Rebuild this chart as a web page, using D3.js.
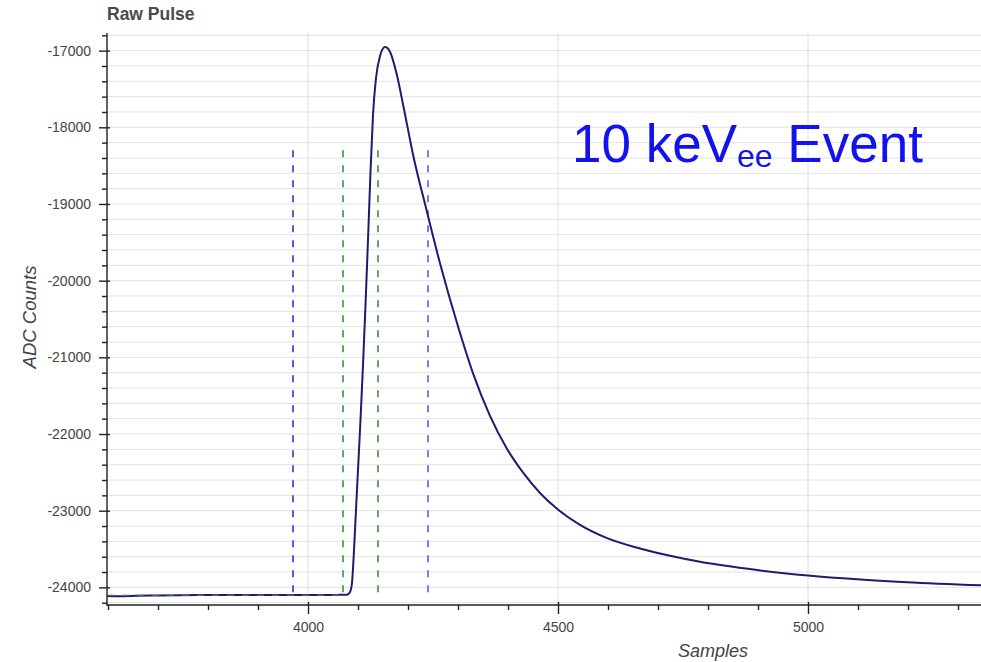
<!DOCTYPE html>
<html>
<head>
<meta charset="utf-8">
<script src="https://cdn.jsdelivr.net/npm/d3@7"></script>
<style>
  html, body { margin: 0; padding: 0; background: #fff; }
  svg { display: block; }
</style>
</head>
<body>
<svg id="chart" width="981" height="662"></svg>
<script>
// Raw digitized pulse: sample index and ADC counts
const pulseSamples = [
  3598, 3620, 3660, 3700, 3800, 3900, 4000, 4060, 4078, 4084, 4088,
  4091, 4095, 4100, 4105, 4110, 4115, 4120, 4125, 4130, 4136, 4144,
  4154, 4164, 4177, 4191, 4211, 4237, 4264, 4301, 4331, 4364, 4397,
  4431, 4464, 4501, 4544, 4597, 4664, 4731, 4784, 4898, 5000, 5098,
  5198, 5346
];
const pulseCounts = [
  -24112, -24115, -24108, -24105, -24100, -24100, -24100, -24098, -24096, -24060, -23943,
  -23643, -23121, -22469, -21817, -21100, -20317, -19469, -18583, -17839, -17357, -17070,
  -16953, -17014, -17296, -17731, -18383, -19078, -19774, -20617, -21225, -21763, -22182,
  -22511, -22769, -22990, -23184, -23354, -23493, -23598, -23667, -23774, -23845, -23895,
  -23933, -23973
];

// Integration window markers
const outerWindow = [3970, 4240];
const innerWindow = [4070, 4140];
const markerTop = -18300;
const markerBottom = -24160;
const baselineLevel = -24100;
const baselineEnd = 4070;

// Axis ticks
const xMajorTicks = [4000, 4500, 5000];
const xMinorTicks = d3.range(3600, 5400, 100);
const yMajorTicks = [-24000, -23000, -22000, -21000, -20000, -19000, -18000, -17000];
const yMinorTicks = d3.range(-24200, -16700, 200);

const titleText = "Raw Pulse";
const xLabel = "Samples";
const yLabel = "ADC Counts";

(function draw() {
  const svg = d3.select("#chart");
  const pLeft = 107, pRight = 981, pTop = 33, pBottom = 605;

  const x = d3.scaleLinear().domain([3598, 5346]).range([pLeft, pRight]);
  const y = d3.scaleLinear().domain([-24230, -16770]).range([pBottom, pTop]);

  const font = "'Liberation Sans', Arial, Helvetica, sans-serif";
  const textColor = "#444444";

  // Grid
  const grid = svg.append("g");
  grid.selectAll("line.h").data(yMinorTicks).join("line")
    .attr("x1", pLeft).attr("x2", pRight)
    .attr("y1", d => y(d)).attr("y2", d => y(d))
    .attr("stroke", "#e2e2e8").attr("stroke-width", 1);
  grid.selectAll("line.v").data(xMajorTicks).join("line")
    .attr("x1", d => x(d)).attr("x2", d => x(d))
    .attr("y1", pTop).attr("y2", pBottom)
    .attr("stroke", "#dedee6").attr("stroke-width", 1);

  // Window markers
  function marker(val, color) {
    svg.append("line")
      .attr("x1", x(val)).attr("x2", x(val))
      .attr("y1", y(markerTop)).attr("y2", y(markerBottom))
      .attr("stroke", color).attr("stroke-width", 2)
      .attr("stroke-dasharray", "7,8");
  }
  marker(outerWindow[0], "#5c5cc8");
  marker(outerWindow[1], "#7c7cee");
  marker(innerWindow[0], "#5fa85f");
  marker(innerWindow[1], "#5fa85f");

  // Pulse trace
  const pts = pulseSamples.map((s, i) => [s, pulseCounts[i]]);
  const line = d3.line().x(d => x(d[0])).y(d => y(d[1])).curve(d3.curveMonotoneX);
  svg.append("path").datum(pts)
    .attr("d", line)
    .attr("fill", "none")
    .attr("stroke", "#1c1c70")
    .attr("stroke-width", 2);

  // Baseline estimate
  svg.append("line")
    .attr("x1", x(3598)).attr("x2", x(baselineEnd))
    .attr("y1", y(baselineLevel)).attr("y2", y(baselineLevel))
    .attr("stroke", "#5fa85f").attr("stroke-width", 1.2)
    .attr("stroke-dasharray", "7,8").attr("opacity", 0.7);

  // Axes
  const yAxis = svg.append("g").attr("transform", `translate(${pLeft},0)`)
    .call(d3.axisLeft(y).tickValues(yMajorTicks).tickSize(8).tickPadding(8).tickFormat(d => String(d)));
  yAxis.select(".domain").remove();
  yAxis.selectAll(".tick line").attr("x1", 3).attr("stroke", "#222").attr("stroke-width", 1.4);
  yAxis.selectAll(".tick text").attr("font-family", font).attr("font-size", 14).attr("fill", textColor);
  const yMinor = svg.append("g").attr("transform", `translate(${pLeft},0)`)
    .call(d3.axisLeft(y).tickValues(yMinorTicks.filter(v => !yMajorTicks.includes(v))).tickSize(5).tickFormat(""));
  yMinor.select(".domain").remove();
  yMinor.selectAll(".tick line").attr("stroke", "#222").attr("stroke-width", 1.4);
  svg.append("line").attr("x1", pLeft).attr("x2", pLeft).attr("y1", pTop).attr("y2", pBottom + 0.5)
    .attr("stroke", "#222").attr("stroke-width", 1.4);

  const xAxis = svg.append("g").attr("transform", `translate(0,${pBottom})`)
    .call(d3.axisBottom(x).tickValues(xMajorTicks).tickSize(9).tickPadding(8).tickFormat(d => String(d)));
  xAxis.select(".domain").remove();
  xAxis.selectAll(".tick line").attr("y1", -3).attr("stroke", "#222").attr("stroke-width", 1.4);
  xAxis.selectAll(".tick text").attr("font-family", font).attr("font-size", 14).attr("fill", textColor);
  const xMinor = svg.append("g").attr("transform", `translate(0,${pBottom})`)
    .call(d3.axisBottom(x).tickValues(xMinorTicks.filter(v => !xMajorTicks.includes(v))).tickSize(5).tickFormat(""));
  xMinor.select(".domain").remove();
  xMinor.selectAll(".tick line").attr("stroke", "#222").attr("stroke-width", 1.4);
  svg.append("line").attr("x1", pLeft - 0.5).attr("x2", pRight).attr("y1", pBottom).attr("y2", pBottom)
    .attr("stroke", "#222").attr("stroke-width", 1.4);

  // Labels
  svg.append("text").attr("x", 107).attr("y", 20)
    .attr("font-family", font).attr("font-size", 17.5).attr("font-weight", "bold")
    .attr("fill", "#4a4a4a").text(titleText);

  svg.append("text").attr("x", 713).attr("y", 657).attr("text-anchor", "middle")
    .attr("font-family", font).attr("font-size", 18).attr("font-style", "italic")
    .attr("fill", textColor).text(xLabel);

  svg.append("text").attr("transform", "translate(36,317) rotate(-90)").attr("text-anchor", "middle")
    .attr("font-family", font).attr("font-size", 18.5).attr("font-style", "italic")
    .attr("fill", textColor).text(yLabel);

  // Event annotation
  const ann = svg.append("text").attr("x", 572).attr("y", 162)
    .attr("font-family", font).attr("font-size", 53).attr("fill", "#1212ee");
  ann.append("tspan").text("10 keV");
  ann.append("tspan").attr("font-size", 32).attr("dy", 5).text("ee");
  ann.append("tspan").attr("dy", -5).text(" Event");
})();
</script>
</body>
</html>
